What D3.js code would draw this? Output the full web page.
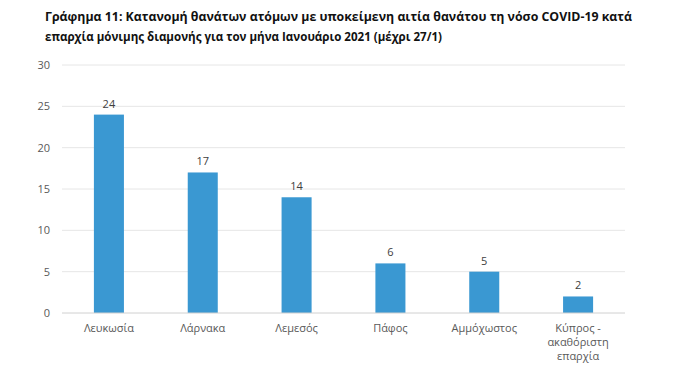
<!DOCTYPE html>
<html><head><meta charset="utf-8">
<script src="https://cdn.jsdelivr.net/npm/d3@7"></script>
<style>body{margin:0;background:#fff}svg{display:block}</style>
</head><body>
<script>
const categories = [["Λευκωσία"],["Λάρνακα"],["Λεμεσός"],["Πάφος"],["Αμμόχωστος"],["Κύπρος -","ακαθόριστη","επαρχία"]];
const values = [24, 17, 14, 6, 5, 2];
const yTicks = [0, 5, 10, 15, 20, 25, 30];
const titleLines = ["Γράφημα 11: Κατανομή θανάτων ατόμων με υποκείμενη αιτία θανάτου τη νόσο COVID-19 κατά",
                    "επαρχία μόνιμης διαμονής για τον μήνα Ιανουάριο 2021 (μέχρι 27/1)"];

const W = 679, H = 385;
const svg = d3.select("body").append("svg").attr("width", W).attr("height", H);
const font = "'Open Sans', 'Noto Sans', sans-serif";

// title
svg.append("text").attr("x", 45).attr("y", 21).attr("font-family", font).attr("font-weight", "bold")
  .attr("font-size", 12.5).attr("fill", "#111").attr("textLength", 587).attr("lengthAdjust", "spacingAndGlyphs").text(titleLines[0]);
svg.append("text").attr("x", 45).attr("y", 41).attr("font-family", font).attr("font-weight", "bold")
  .attr("font-size", 12.5).attr("fill", "#111").attr("textLength", 397).attr("lengthAdjust", "spacingAndGlyphs").text(titleLines[1]);

const x = d3.scaleBand().domain(d3.range(values.length)).range([62, 625]).paddingInner(0.68).paddingOuter(0.34);
const y = d3.scaleLinear().domain([0, 30]).range([313, 65]);

// gridlines
svg.append("g").selectAll("line").data(yTicks.filter(t => t > 0)).join("line")
  .attr("x1", 62).attr("x2", 625).attr("y1", d => y(d)).attr("y2", d => y(d))
  .attr("stroke", "#e6e6e6").attr("stroke-width", 1);

// y axis labels
const yAxis = d3.axisLeft(y).tickValues(yTicks).tickSize(0).tickPadding(0);
const ya = svg.append("g").attr("transform", "translate(50,0)").call(yAxis);
ya.select(".domain").remove();
ya.selectAll("text").attr("font-family", font).attr("font-size", 11).attr("fill", "#595959");

// bars
svg.append("g").selectAll("rect").data(values).join("rect")
  .attr("x", (d, i) => x(i)).attr("width", x.bandwidth())
  .attr("y", d => y(d)).attr("height", d => y(0) - y(d)).attr("fill", "#3a98d2");

// baseline
svg.append("line").attr("x1", 62).attr("x2", 625).attr("y1", y(0)).attr("y2", y(0))
  .attr("stroke", "#d0d0d0").attr("stroke-width", 1);

// value labels
svg.append("g").selectAll("text").data(values).join("text")
  .attr("x", (d, i) => x(i) + x.bandwidth() / 2).attr("y", d => y(d) - 7)
  .attr("text-anchor", "middle").attr("font-family", font).attr("font-size", 11).attr("fill", "#404040")
  .text(d => d);

// x labels
const xl = svg.append("g").selectAll("text").data(categories).join("text")
  .attr("x", (d, i) => x(i) + x.bandwidth() / 2).attr("y", 332)
  .attr("text-anchor", "middle").attr("font-family", font).attr("font-size", 11).attr("fill", "#595959");
xl.selectAll("tspan").data(d => d).join("tspan")
  .attr("x", function() { return d3.select(this.parentNode).attr("x"); })
  .attr("dy", (d, i) => i === 0 ? 0 : 14).text(d => d);
</script>
</body></html>
